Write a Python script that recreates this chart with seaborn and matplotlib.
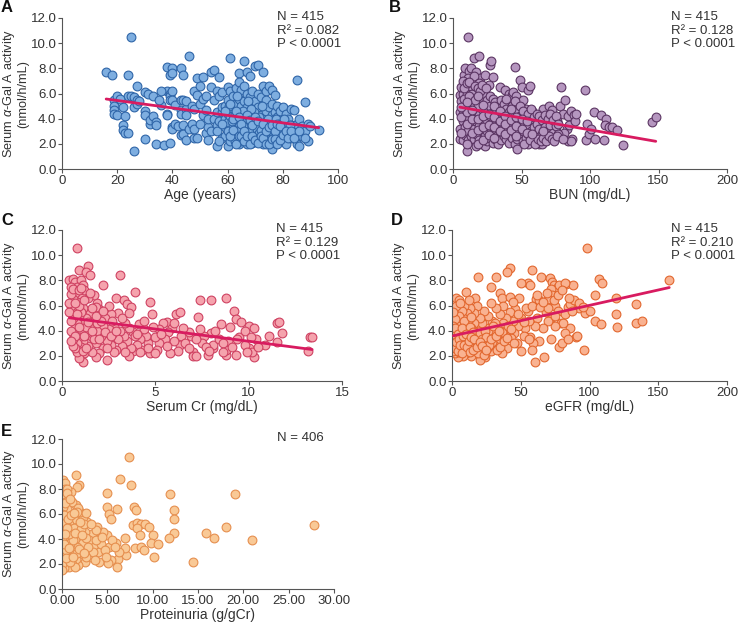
import matplotlib
matplotlib.use("Agg")
import matplotlib.pyplot as plt
import seaborn as sns
from matplotlib.ticker import FormatStrFormatter

# ---- Panel A: age vs serum alpha-Gal A activity
age = [16, 18, 19, 19, 19, 19, 20, 22, 22, 22, 23, 23, 24, 24, 24, 25, 25, 26, 26, 26,
       27, 27, 27, 30, 30, 30, 30, 31, 32, 32, 33, 34, 34, 34, 36, 37, 38, 38, 38, 38,
       39, 39, 39, 39, 39, 40, 40, 40, 40, 40, 40, 41, 41, 42, 43, 43, 43, 43, 43, 44,
       44, 44, 44, 45, 45, 45, 45, 46, 46, 47, 47, 48, 48, 48, 48, 49, 49, 49, 50, 50, 50,
       51, 51, 51, 52, 52, 52, 53, 53, 53, 54, 54, 54, 55, 55, 55, 56, 56, 56, 56,
       57, 57, 57, 58, 58, 58, 58, 59, 59, 59, 59,
       60, 60, 60, 60, 60, 61, 61, 61, 61, 61, 62, 62, 62, 62, 63, 63, 63, 63, 63,
       64, 64, 64, 64, 64, 64, 65, 65, 65, 65, 65, 66, 66, 66, 66, 66, 66,
       67, 67, 67, 67, 67, 67, 68, 68, 68, 68, 68, 69, 69, 69, 69, 69,
       70, 70, 70, 70, 70, 71, 71, 71, 71, 71, 72, 72, 72, 72, 73, 73, 73, 73, 73, 73,
       74, 74, 74, 74, 74, 75, 75, 75, 75, 76, 76, 76, 76, 76, 77, 77, 77, 77,
       78, 78, 78, 78, 79, 79, 79, 80, 80, 80, 81, 81, 81, 82, 82, 83, 83, 83, 84, 84,
       85, 85, 85, 86, 86, 87, 87, 88, 88, 89, 89, 90, 93,
       60.5, 61.5, 62.5, 63.5, 64.5, 65.5, 66.5, 67.5, 68.5, 69.5, 70.5, 71.5, 72.5, 73.5,
       74.5, 75.5, 76.5, 77.5, 78.5, 79.5, 62.5, 65.5, 68.5, 71.5, 74.5, 77.5, 80.5, 82.5,
       81.5, 63.5,
       56, 57, 58, 59, 60, 61, 61, 62, 62, 63, 63, 64, 64, 65, 65, 66, 66, 67, 67, 68,
       68, 69, 69, 70, 70, 71, 71, 72, 72, 73, 73, 74, 74, 75, 75, 76, 76, 77, 77, 78,
       78, 79, 79, 80, 81, 82, 83, 84, 86, 88,
       20, 21, 28, 33, 35, 36]
act_a = [7.7, 7.5, 5.5, 5.0, 4.7, 4.4, 4.3, 4.9, 3.5, 3.1, 4.2, 2.9, 7.5, 2.9, 5.8, 10.5, 5.8, 5.7, 4.9, 1.45,
         6.6, 5.5, 5.2, 6.1, 4.6, 4.3, 2.4, 6.0, 3.6, 3.9, 4.2, 3.7, 3.5, 2.0, 5.1, 1.9, 8.1, 6.2, 4.4, 4.3,
         7.5, 6.0, 5.8, 5.5, 2.1, 8.0, 7.6, 6.2, 5.5, 3.3, 3.2, 5.1, 3.6, 3.4, 8.0, 5.5, 4.7, 4.4, 2.7, 7.5,
         5.5, 3.5, 2.8, 4.8, 4.3, 2.3, 5.4, 9.0, 3.2, 5.0, 3.6, 6.2, 4.8, 2.5, 3.2, 7.2, 5.9, 2.5, 3.6, 6.6, 5.2,
         7.3, 4.3, 5.6, 5.8, 4.7, 2.9, 3.3, 4.0, 2.3, 7.7, 6.5, 3.0, 7.9, 5.5, 4.0, 6.2, 4.5, 3.5, 1.8,
         5.8, 3.8, 7.3, 6.1, 4.5, 4.9, 2.5, 5.0, 4.0, 3.3, 2.6,
         6.5, 5.5, 4.4, 3.7, 1.8, 8.8, 6.2, 4.2, 3.0, 2.2, 5.8, 4.8, 3.5, 2.7, 6.4, 5.2, 4.0, 3.2, 2.5,
         7.6, 6.9, 5.6, 4.6, 3.6, 2.0, 6.3, 5.0, 4.1, 2.9, 2.2, 8.6, 6.6, 5.4, 4.4, 3.4, 2.6,
         7.7, 6.0, 4.9, 3.8, 3.0, 2.0, 7.4, 5.7, 4.3, 3.5, 2.4, 6.2, 5.2, 4.0, 3.1, 2.1,
         8.2, 5.4, 4.6, 3.7, 2.8, 8.3, 6.0, 4.9, 3.4, 2.5, 5.7, 4.3, 3.6, 2.2, 7.7, 6.6, 5.1, 4.0, 3.2, 2.0,
         6.2, 5.5, 4.6, 3.4, 2.7, 6.6, 4.9, 3.8, 2.4, 6.3, 5.2, 4.3, 3.0, 1.55, 5.9, 4.5, 3.5, 2.1,
         5.0, 4.1, 3.2, 2.5, 4.6, 3.8, 2.8, 4.9, 3.3, 2.2, 4.4, 3.6, 2.0, 4.0, 3.0, 4.8, 3.5, 2.5, 4.7, 3.2,
         7.1, 3.6, 2.0, 4.0, 1.8, 3.4, 2.6, 5.3, 3.0, 3.6, 2.2, 3.4, 3.1,
         5.0, 3.8, 4.4, 5.8, 3.0, 4.6, 3.9, 5.4, 3.0, 4.5, 3.2, 4.1, 5.0, 3.6,
         4.0, 3.3, 3.6, 4.0, 3.6, 3.2, 2.2, 3.4, 4.8, 2.9, 2.2, 2.8, 4.0, 3.5,
         2.6, 3.0,
         3.0, 2.2, 3.6, 4.6, 3.0, 5.2, 2.6, 4.0, 3.1, 4.6, 2.0, 4.1, 2.6, 3.6, 2.6, 3.0, 2.2, 4.3, 2.6, 3.9,
         2.0, 3.5, 2.6, 4.1, 2.3, 3.8, 2.1, 3.1, 2.6, 3.6, 2.5, 3.0, 2.0, 3.3, 2.0, 3.5, 2.4, 3.0, 2.4, 3.6,
         2.0, 3.4, 2.3, 2.7, 3.0, 2.5, 3.0, 2.5, 3.0, 2.5,
         5.8, 5.6, 5.4, 5.8, 5.5, 6.2]

# ---- Panel B: BUN
bun = [11, 10, 8, 9, 12, 13, 14, 15, 17, 19, 20, 23, 27, 28, 29, 26, 22, 34, 35, 38,
       41, 43, 44, 45, 46, 49, 50, 51, 55, 56, 53, 58, 62, 64, 66, 68, 70, 72, 75, 76,
       78, 79, 80, 82, 83, 84, 85, 86, 87, 88, 89, 90, 84, 86, 81, 96, 97, 98, 99, 103,
       104, 108, 110, 112, 111, 114, 116, 120, 124, 145, 148, 101,
       5, 5, 5, 5, 7, 7, 7, 7, 7, 9, 9, 9, 9, 9, 9, 11, 11, 11, 11, 11, 11, 11,
       13, 13, 13, 13, 13, 13, 15, 15, 15, 15, 15, 15, 17, 17, 17, 17, 17, 17,
       19, 19, 19, 19, 19, 21, 21, 21, 21, 21, 23, 23, 23, 23, 23, 23, 25, 25, 25, 25, 25,
       27, 27, 27, 27, 27, 29, 29, 29, 29, 29, 31, 31, 31, 31, 31, 33, 33, 33, 33, 33,
       35, 35, 35, 35, 35, 37, 37, 37, 37, 39, 39, 39, 39, 39, 41, 41, 41, 41, 43, 43, 43, 43,
       45, 45, 45, 45, 45, 47, 47, 47, 47, 47, 49, 49, 49, 49, 51, 51, 51, 51, 53, 53, 53,
       55, 55, 55, 55, 57, 57, 57, 59, 59, 59, 61, 61, 61, 63, 63, 63, 65, 65, 65, 67, 67,
       69, 69, 69, 71, 71, 73, 73, 75, 75, 77, 77,
       6, 6, 6, 10, 10, 10, 10, 14, 14, 14, 18, 18, 18, 18, 22, 22, 22, 22, 26, 26, 26,
       30, 30, 30, 30, 34, 34, 34, 38, 38, 38, 42, 42, 42, 46, 46, 46, 50, 50, 54, 54,
       6, 7, 8, 10, 12, 14, 16, 18, 20, 8, 12, 16, 21, 24, 6, 10, 14, 18,
       52, 56, 60, 62, 64, 66, 68, 70, 72, 74, 76, 80, 58, 66]
act_b = [10.5, 1.4, 7.5, 8.0, 7.8, 8.0, 7.0, 8.8, 7.7, 9.0, 7.2, 7.5, 8.3, 8.6, 7.3, 6.7, 6.5, 6.5, 5.2, 6.3,
         6.0, 5.9, 6.1, 8.1, 5.8, 7.1, 6.5, 5.5, 6.3, 6.6, 4.8, 4.6, 4.0, 3.6, 4.8, 3.7, 5.0, 4.7, 3.0, 3.8,
         5.0, 6.5, 4.4, 5.5, 3.2, 4.2, 3.5, 4.6, 2.4, 4.3, 3.8, 4.4, 2.2, 2.2, 2.9, 6.3, 2.3, 3.6, 2.8, 4.5,
         2.4, 4.3, 2.3, 4.0, 3.5, 3.3, 3.3, 3.1, 1.9, 3.7, 4.1, 3.2,
         3.2, 2.4, 5.9, 4.5, 5.0, 3.8, 2.3, 6.0, 4.4, 5.6, 4.8, 3.3, 2.7, 6.8, 4.2, 6.2, 5.2, 4.0, 3.0, 2.3, 7.2, 5.8,
         6.5, 5.5, 4.5, 3.6, 2.6, 5.0, 6.0, 5.0, 4.2, 3.2, 2.4, 7.4, 5.8, 4.6, 3.8, 2.8, 1.8, 6.2,
         5.4, 4.3, 3.4, 2.3, 6.8, 5.6, 4.8, 3.9, 3.0, 2.0, 5.2, 4.4, 3.6, 2.6, 1.8, 6.0, 5.5, 4.7, 3.8, 3.0, 2.2,
         5.0, 4.2, 3.3, 2.5, 5.8, 5.6, 4.5, 3.7, 2.9, 2.1, 5.3, 4.8, 4.0, 3.2, 2.4, 5.0, 4.3, 3.5, 2.7, 2.0,
         4.6, 3.8, 3.0, 2.3, 5.5, 5.2, 4.4, 3.4, 2.6, 4.8, 4.0, 3.2, 2.4, 5.6, 4.5, 3.6, 2.9, 2.1, 5.0, 4.2, 3.3, 2.5,
         4.4, 3.7, 2.9, 2.0, 5.4, 4.7, 3.9, 3.1, 1.55, 2.4, 4.2, 3.4, 2.6, 5.0, 4.6, 3.8, 3.0, 2.2, 4.0, 3.2, 2.5,
         4.4, 3.5, 2.8, 2.0, 3.8, 3.0, 4.8, 4.1, 3.3, 2.6, 3.6, 2.9, 4.4, 3.2, 2.0, 4.2, 3.9, 2.8, 2.0, 3.3, 4.3,
         3.0, 4.0, 2.7, 3.5, 4.4, 2.9, 3.9, 3.4, 4.2, 2.8, 3.6,
         5.4, 4.1, 2.9, 6.0, 4.5, 3.6, 2.0, 5.3, 4.0, 2.9, 5.0, 4.0, 3.1, 2.0, 5.1, 4.2, 3.3, 2.3, 4.4, 3.5, 2.7,
         5.0, 4.1, 3.3, 2.5, 4.6, 3.8, 3.0, 4.2, 3.6, 2.8, 4.8, 3.9, 3.1, 4.1, 3.4, 2.6, 4.0, 3.2, 3.8, 2.9,
         6.5, 7.0, 6.4, 6.8, 6.9, 6.0, 6.6, 6.4, 6.2, 5.6, 5.8, 5.5, 6.7, 6.4, 4.9, 5.3, 4.7, 5.8,
         2.0, 2.3, 2.0, 2.4, 2.2, 2.5, 2.2, 2.6, 2.4, 2.2, 2.6, 2.4, 2.8, 3.0]

# ---- Panel C: serum creatinine
cr = [0.8, 0.4, 0.6, 0.7, 0.9, 1.0, 0.8, 1.1, 1.4, 1.3,
      1.5, 2.2, 3.1, 3.9, 2.9, 3.3, 3.5, 3.7, 4.7, 4.8,
      5.6, 6.1, 6.3, 7.4, 7.3, 8.0, 8.8, 9.2, 9.3, 8.5,
      9.0, 9.6, 10.0, 10.3, 11.5, 11.6, 11.8, 11.1, 11.5, 10.9,
      10.4, 10.0, 10.3, 10.2, 13.2, 13.3, 13.4, 9.5, 9.8, 9.4,
      8.8, 8.8, 8.9, 8.1, 8.1, 8.0, 8.2, 7.8, 7.6, 7.5,
      7.0, 7.0, 6.9, 6.8, 7.4, 6.5, 6.4, 6.3, 6.2, 6.0,
      5.8, 5.9, 5.7, 5.5, 5.4, 5.2, 5.2, 5.1, 5.0, 4.9,
      4.7, 4.6, 4.5, 4.4, 4.3, 4.2, 4.1, 4.0, 3.8, 3.8,
      3.7, 3.6, 3.6, 3.5, 3.4, 3.3, 3.2, 3.1, 3.0, 3.0,
      2.9, 2.8, 2.7, 2.6, 2.6, 2.5, 2.4, 2.4, 2.3, 2.2,
      2.2, 2.1, 2.0, 2.0, 1.9, 1.9, 1.8, 1.8, 1.7, 1.7,
      1.6, 1.6, 1.5, 1.5, 1.4, 1.4, 1.3, 1.3, 1.2, 1.2,
      1.1, 1.1, 1.1, 1.0, 1.0, 1.0, 0.9, 0.9, 0.9, 0.8,
      0.8, 0.8, 0.8, 0.7, 0.7, 0.7, 0.7, 0.6, 0.6, 0.6,
      0.6, 0.5, 0.5, 0.5, 0.4, 0.4, 1.2, 1.5, 1.8, 2.5,
      1.3, 1.7, 2.8, 3.9, 1.6, 1.9, 2.3, 2.7,
      0.5, 0.6, 0.9, 1.0, 1.2, 1.4, 1.6, 2.0, 2.1, 2.4,
      2.6, 1.1, 0.7, 0.9, 1.3, 1.8, 2.2, 2.9, 3.2, 3.4,
      3.6, 4.0, 4.2, 4.4, 4.6, 5.0, 5.3, 5.6, 6.0, 6.6,
      6.8, 7.2, 7.7, 8.4, 8.6, 9.1, 9.8, 10.1, 0.5, 0.8,
      0.5, 0.6, 0.9, 1.0, 0.7, 1.2, 9.9, 10.5, 8.6, 9.3, 7.2, 7.9]
act_c = [10.6, 8.0, 8.1, 7.9, 8.8, 8.0, 7.5, 7.6, 9.1, 8.7,
         8.4, 7.6, 8.4, 7.1, 6.6, 6.4, 6.1, 5.9, 6.3, 5.3,
         4.7, 5.3, 5.5, 6.4, 5.1, 6.4, 6.6, 5.6, 4.9, 4.5,
         4.3, 4.7, 4.4, 4.2, 4.6, 4.7, 3.8, 3.6, 3.1, 2.9,
         3.3, 2.6, 1.9, 2.3, 2.4, 3.5, 3.5, 3.5, 2.9, 3.3,
         2.1, 2.5, 3.2, 2.6, 2.9, 3.8, 4.0, 2.1, 3.6, 3.0,
         2.3, 2.0, 3.6, 3.9, 4.1, 4.2, 3.6, 2.9, 2.4, 3.2,
         2.2, 4.2, 3.9, 3.3, 4.6, 4.1, 3.0, 2.5, 3.5, 4.3,
         2.2, 3.0, 3.6, 4.1, 2.5, 3.3, 4.5, 2.9, 2.4, 3.9,
         2.6, 4.2, 2.0, 3.2, 4.6, 3.6, 2.8, 4.0, 3.3, 5.4,
         2.5, 4.4, 3.7, 2.9, 5.3, 4.1, 1.7, 3.2, 5.0, 4.4,
         2.6, 3.6, 5.7, 2.2, 4.0, 6.2, 3.0, 1.9, 4.8, 6.8,
         3.5, 2.3, 5.4, 4.2, 2.8, 6.6, 3.8, 5.0, 2.2, 4.5,
         1.5, 3.2, 5.8, 6.8, 4.0, 2.7, 1.8, 5.2, 3.5, 6.3,
         4.6, 3.0, 2.3, 7.0, 5.6, 4.2, 2.6, 6.5, 5.0, 3.8,
         3.3, 6.0, 4.8, 6.9, 5.5, 6.2, 7.2, 7.0, 5.9, 6.0,
         4.3, 3.3, 2.3, 3.6, 5.8, 4.6, 3.9, 4.8,
         4.0, 2.8, 4.3, 5.5, 3.6, 4.7, 4.0, 3.3, 4.8, 2.6,
         3.6, 2.4, 3.6, 6.0, 2.6, 5.2, 5.6, 4.0, 5.0, 2.3,
         5.4, 3.7, 2.3, 4.8, 2.6, 2.2, 3.7, 2.8, 4.6, 3.0,
         2.6, 3.3, 2.7, 3.3, 3.0, 2.7, 4.0, 3.5, 3.2, 5.3,
         7.5, 7.3, 7.2, 7.4, 6.2, 6.4, 2.3, 2.7, 2.3, 2.1, 2.0, 2.4]

# ---- Panel D: eGFR
egfr = [98, 42, 40, 58, 19, 32, 65, 71, 55, 57,
        28, 50, 73, 74, 76, 78, 83, 88, 82, 107,
        109, 158, 104, 72, 73, 10, 3, 5, 17, 35,
        36, 42, 49, 61, 63, 67, 70, 75, 84, 86,
        89, 92, 97, 100, 104, 108, 119, 119, 120, 134,
        134, 138, 96, 60, 67, 90, 86, 78, 80, 82,
        79, 81, 84, 91, 72, 75, 73, 77, 70, 68,
        66, 63, 62, 60, 59, 58, 57, 56, 55, 53,
        52, 50, 50, 48, 47, 46, 45, 44, 43, 42,
        41, 40, 39, 38, 37, 37, 36, 35, 34, 33,
        32, 31, 30, 29, 28, 28, 27, 26, 25, 24,
        24, 23, 22, 21, 21, 20, 20, 19, 18, 18,
        17, 16, 16, 15, 14, 14, 13, 13, 12, 12,
        11, 11, 10, 10, 9, 9, 8, 8, 8, 7,
        7, 6, 6, 5, 5, 4, 4, 4, 3, 3,
        3, 2, 2, 2, 1, 1, 1, 1, 2, 6,
        12, 15, 19, 23, 26, 29, 33, 9, 14, 17,
        22, 26, 31, 36, 44, 54, 58, 64, 70, 75,
        82,
        1, 2, 3, 4, 5, 6, 7, 8, 9, 10,
        11, 12, 13, 14, 15, 16, 17, 18, 20, 21,
        22, 23, 24, 25, 27, 28, 30, 32, 34, 35,
        38, 40, 41, 43, 45, 48, 52, 56, 1, 3,
        1, 2, 3, 4, 5, 6, 7, 8, 9, 10,
        11, 12, 13, 14, 15, 16, 18, 20, 22, 25,
        62, 66, 69, 74, 77, 80, 85, 87, 92, 95]
act_d = [10.6, 9.0, 8.7, 8.8, 8.3, 8.3, 8.3, 8.2, 7.8, 7.6,
         7.5, 7.8, 7.9, 7.6, 7.4, 7.6, 7.7, 7.6, 7.8, 8.1,
         7.8, 8.0, 6.8, 7.3, 6.8, 7.1, 6.6, 6.4, 6.6, 7.0,
         6.6, 6.7, 6.6, 6.5, 6.4, 6.1, 6.5, 6.0, 5.9, 6.1,
         6.4, 5.8, 5.4, 5.6, 4.8, 4.5, 6.6, 5.3, 4.3, 6.1,
         4.6, 4.8, 2.5, 1.5, 1.9, 3.5, 4.2, 2.7, 3.0, 3.8,
         4.6, 4.6, 3.3, 3.6, 3.3, 4.4, 5.1, 5.6, 4.8, 5.5,
         4.2, 3.2, 5.0, 4.4, 3.0, 2.5, 3.5, 4.8, 5.6, 4.2,
         3.6, 5.0, 2.4, 4.4, 3.0, 5.7, 3.8, 4.8, 3.4, 5.5,
         4.2, 2.6, 5.0, 3.6, 4.6, 6.0, 2.2, 5.3, 3.2, 4.4,
         5.8, 2.8, 3.8, 4.8, 6.2, 2.4, 3.4, 5.2, 4.2, 1.9,
         3.0, 5.6, 4.6, 3.6, 2.6, 1.7, 5.0, 4.0, 6.0, 3.2,
         2.4, 4.6, 5.4, 3.6, 2.0, 4.2, 5.8, 3.0, 4.9, 2.5,
         3.8, 5.4, 4.4, 2.2, 3.2, 6.0, 5.0, 4.0, 2.0, 3.5,
         5.6, 4.6, 2.6, 3.9, 5.2, 3.0, 4.4, 1.9, 6.0, 3.6,
         2.4, 4.9, 4.1, 3.2, 5.5, 3.8, 2.8, 4.4, 2.2, 6.2,
         6.4, 2.8, 2.2, 2.1, 2.7, 3.1, 2.5, 4.8, 5.1, 3.9,
         3.4, 4.0, 4.6, 3.9, 6.3, 5.8, 6.0, 5.9, 5.8, 5.2,
         5.3,
         3.3, 4.2, 3.0, 3.7, 2.3, 3.5, 4.2, 3.0, 2.6, 3.4,
         3.6, 3.0, 4.3, 3.2, 3.9, 2.7, 3.4, 3.0, 3.8, 2.8,
         3.3, 3.0, 4.0, 3.5, 2.9, 3.3, 4.4, 3.6, 4.0, 2.7,
         3.2, 3.4, 4.4, 4.1, 3.0, 5.3, 4.7, 3.3, 2.4, 3.1,
         3.0, 2.6, 3.1, 2.4, 3.3, 2.9, 2.2, 3.6, 2.9, 3.7,
         2.7, 3.2, 2.3, 3.5, 2.5, 3.3, 2.7, 3.1, 2.8, 2.5,
         6.8, 6.3, 7.0, 6.4, 6.8, 7.2, 6.6, 5.6, 6.2, 5.9]

# ---- Panel E: proteinuria
prot = [7.4, 6.4, 7.6, 1.5, 1.9, 1.7, 0.1, 0.3, 5.0, 11.9,
        19.1, 12.3, 12.3, 12.3, 11.8, 7.9, 8.2, 6.1, 5.0, 5.2,
        5.4, 7.8, 8.3, 8.7, 9.1, 9.6, 8.3, 8.6, 8.0, 8.7,
        9.0, 10.0, 9.8, 10.6, 10.1, 14.4, 15.9, 16.8, 18.1, 21.0,
        27.8, 7.1, 6.9, 7.0, 6.2, 6.1, 6.3, 6.0, 5.4, 5.1,
        5.2, 5.0, 4.5, 4.1, 4.0, 4.0, 3.9, 3.5, 3.3, 3.1,
        3.0, 2.8, 2.6, 2.5, 2.5, 2.3, 2.2, 2.0, 2.0, 1.9,
        1.8, 1.7, 1.6, 1.5, 1.5, 1.4, 1.3, 1.2, 1.1, 1.1,
        1.0, 0.9, 0.9, 0.8, 0.8, 0.7, 0.7, 0.6, 0.6, 0.5,
        0.5, 0.5, 0.4, 0.4, 0.3, 0.3, 0.3, 0.2, 0.2, 0.2,
        0.1, 0.1, 0.1, 0.1, 0.0, 0.0, 0.0, 0.0, 0.0, 0.0,
        0.0, 0.0, 1.0, 0.6, 0.3, 1.3, 1.6, 2.1, 2.7, 3.4,
        3.7, 4.3, 4.7, 4.8, 5.5, 5.8, 2.9, 1.2, 0.8, 0.4,
        0.2, 0.7, 1.8, 2.4, 2.7, 3.6, 1.4, 0.9,
        0.2, 0.4, 0.6, 0.8, 1.0, 1.2, 1.4, 1.6, 1.9, 2.2,
        2.4, 2.6, 3.2, 3.8, 4.4, 0.3, 0.5, 0.9, 1.3, 2.0]
act_e = [10.6, 8.8, 8.3, 9.1, 8.3, 8.2, 8.7, 8.5, 7.7, 7.6,
         7.6, 6.3, 5.6, 4.5, 4.1, 6.6, 6.3, 6.4, 6.6, 6.0,
         5.6, 5.1, 5.3, 5.2, 5.2, 5.0, 4.9, 4.3, 3.3, 3.4,
         3.1, 4.3, 3.7, 3.6, 2.6, 2.2, 4.5, 4.1, 5.0, 3.9,
         5.1, 2.7, 3.3, 4.1, 2.4, 1.8, 3.0, 3.7, 2.3, 2.1,
         3.4, 4.3, 4.6, 2.2, 3.0, 4.0, 5.0, 3.5, 4.4, 2.6,
         3.9, 5.4, 3.2, 2.2, 4.6, 5.8, 3.7, 2.8, 6.2, 4.3,
         1.9, 5.1, 3.4, 6.7, 2.4, 4.0, 5.6, 3.0, 7.0, 2.0,
         4.6, 3.6, 6.0, 1.8, 5.2, 2.6, 4.2, 7.4, 3.2, 6.4,
         5.0, 2.2, 3.8, 4.6, 8.0, 5.7, 2.9, 7.1, 4.2, 1.7,
         6.6, 5.3, 3.4, 2.4, 6.0, 4.8, 3.9, 3.0, 2.0, 1.5,
         7.6, 5.4, 7.8, 8.0, 6.9, 4.9, 2.9, 4.8, 4.1, 3.0,
         4.7, 3.6, 3.1, 2.6, 3.9, 3.4, 3.4, 3.9, 4.4, 3.1,
         5.9, 5.6, 6.5, 5.2, 2.6, 2.3, 1.8, 2.2,
         3.6, 2.5, 4.9, 3.3, 5.9, 2.6, 4.5, 6.2, 3.2, 4.3,
         2.9, 6.1, 5.2, 3.9, 4.2, 4.4, 7.7, 7.2, 6.1, 5.4]

LINE = "#d81b60"
TXT = "#333333"
YLAB = "Serum $\\alpha$-Gal A activity\n(nmol/h/mL)"


def panel(ax, x, y, face, edge, fit, xmax, step, xfmt, xlabel, note, note_x):
    pts = dict(s=40, color=face, edgecolors=edge, linewidths=0.8, alpha=1, zorder=2)
    if fit:
        sns.regplot(x=x, y=y, ax=ax, ci=None, truncate=True, scatter_kws=pts,
                    line_kws=dict(color=LINE, lw=2.0, zorder=3))
    else:
        ax.scatter(x, y, **pts)
    ax.set_xlim(0, xmax)
    ax.set_ylim(0, 12)
    ax.set_xticks([i * step for i in range(int(round(xmax / step)) + 1)])
    ax.set_yticks([0, 2, 4, 6, 8, 10, 12])
    ax.xaxis.set_major_formatter(FormatStrFormatter(xfmt))
    ax.yaxis.set_major_formatter(FormatStrFormatter("%.1f"))
    ax.set_xlabel(xlabel, fontsize=10, color=TXT, labelpad=1)
    ax.set_ylabel(YLAB, fontsize=9.2, color=TXT, labelpad=1, linespacing=1.0)
    ax.tick_params(direction="out", length=3, width=0.8, color="#555555",
                   labelsize=9.5, labelcolor=TXT, pad=1)
    for s in ["left", "bottom"]:
        ax.spines[s].set_color("#555555")
        ax.spines[s].set_linewidth(0.8)
    sns.despine(ax=ax)
    ax.text(note_x, 1.045, note, transform=ax.transAxes, ha="left", va="top",
            fontsize=9.5, color=TXT, linespacing=1.15)


sns.set_style("ticks")
plt.rcParams["font.family"] = ["Liberation Sans", "DejaVu Sans"]
plt.rcParams["mathtext.fontset"] = "custom"
plt.rcParams["mathtext.it"] = "Liberation Sans:italic"

fig = plt.figure(figsize=(7.38, 6.26), dpi=100)
W, H = 738, 626


def add_axes(x0, x1, y0, y1):
    return fig.add_axes([x0 / W, 1 - y1 / H, (x1 - x0) / W, (y1 - y0) / H])


axA = add_axes(62, 338, 18, 169)
axB = add_axes(453, 727, 18, 169)
axC = add_axes(62, 342, 230, 381)
axD = add_axes(452, 727, 230, 381)
axE = add_axes(62, 334, 439, 589)

panel(axA, age, act_a, "#7eaee0", "#2f65a8", True, 100, 20, "%d", "Age (years)",
      "N = 415\nR\u00b2 = 0.082\nP < 0.0001", 0.78)
panel(axB, bun, act_b, "#b596bf", "#5b3563", True, 200, 50, "%d", "BUN (mg/dL)",
      "N = 415\nR\u00b2 = 0.128\nP < 0.0001", 0.795)
panel(axC, cr, act_c, "#f5a3ad", "#cf4262", True, 15, 5, "%d", "Serum Cr (mg/dL)",
      "N = 415\nR\u00b2 = 0.129\nP < 0.0001", 0.765)
panel(axD, egfr, act_d, "#f9b291", "#e2672f", True, 200, 50, "%d", "eGFR (mg/dL)",
      "N = 415\nR\u00b2 = 0.210\nP < 0.0001", 0.795)
panel(axE, prot, act_e, "#f9c996", "#e68f4f", False, 30, 5, "%.2f", "Proteinuria (g/gCr)",
      "N = 406", 0.79)

for letter, (px, py) in zip("ABCDE", [(1, 0), (389, 0), (1, 213), (391, 213), (1, 424)]):
    fig.text(px / W, 1 - py / H, letter, fontsize=12, fontweight="bold", color="#111111",
             ha="left", va="top")

fig.savefig("out.png", dpi=100)
